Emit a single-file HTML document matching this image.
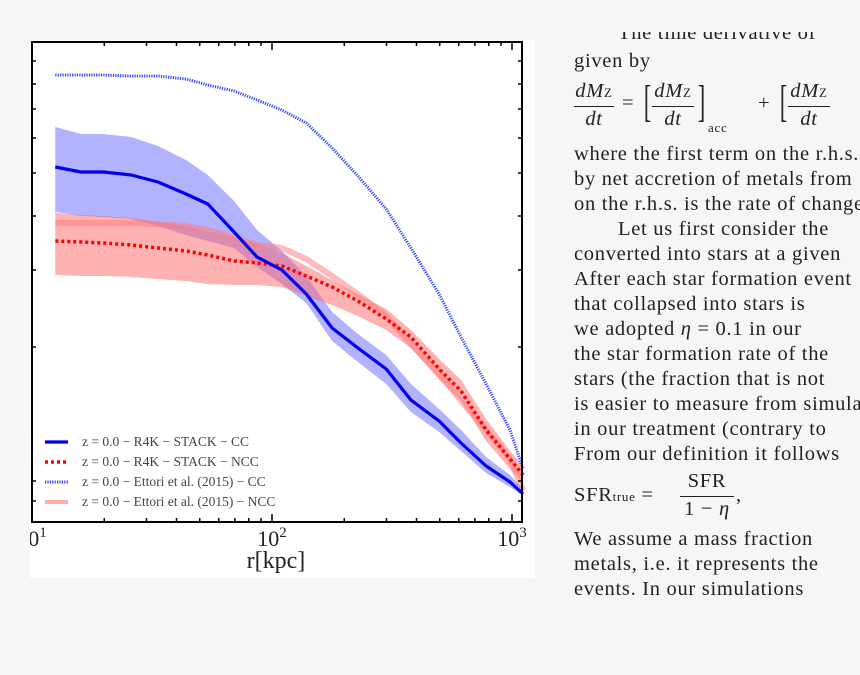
<!DOCTYPE html>
<html><head><meta charset="utf-8">
<style>
html,body{margin:0;padding:0;background:#f6f6f6;width:860px;height:675px;overflow:hidden;position:relative;font-family:"Liberation Serif",serif;}
#panel{position:absolute;left:30px;top:40px;width:505px;height:538px;background:#fff;overflow:hidden}
#txt{position:absolute;left:574px;top:0;width:286px;height:675px;overflow:hidden;color:#222;font-size:20.5px;letter-spacing:0.7px}
.l{position:absolute;left:0;white-space:nowrap}
.frac{position:absolute;text-align:center;font-style:italic}
</style></head><body>
<div id="panel">
<svg id="chart" width="505" height="538" viewBox="30 40 505 538"></svg>
</div>
<div id="txt">
<div class="l" style="top:22px;left:44px;clip-path:inset(10px 0 0 0)">The time derivative of</div>
<div class="l" style="top:50px">given by</div>
<div class="l" style="top:80px;width:300px;height:60px">
 <div class="frac" style="left:0;top:0;width:40px">dM<span style="font-size:13px;font-style:normal">Z</span></div>
 <div style="position:absolute;left:0;top:26px;width:40px;border-top:1px solid #222"></div>
 <div class="frac" style="left:0;top:28px;width:40px">dt</div>
 <div style="position:absolute;left:48px;top:12px">=</div>
 <div style="position:absolute;left:66px;top:-4px;font-size:44px;transform:scaleX(0.5)">[</div>
 <div class="frac" style="left:78px;top:0;width:42px">dM<span style="font-size:13px;font-style:normal">Z</span></div>
 <div style="position:absolute;left:78px;top:26px;width:42px;border-top:1px solid #222"></div>
 <div class="frac" style="left:78px;top:28px;width:42px">dt</div>
 <div style="position:absolute;left:120px;top:-4px;font-size:44px;transform:scaleX(0.5)">]</div>
 <div style="position:absolute;left:134px;top:40px;font-size:13px">acc</div>
 <div style="position:absolute;left:184px;top:12px">+</div>
 <div style="position:absolute;left:202px;top:-4px;font-size:44px;transform:scaleX(0.5)">[</div>
 <div class="frac" style="left:214px;top:0;width:42px">dM<span style="font-size:13px;font-style:normal">Z</span></div>
 <div style="position:absolute;left:214px;top:26px;width:42px;border-top:1px solid #222"></div>
 <div class="frac" style="left:214px;top:28px;width:42px">dt</div>
</div>
<div class="l" style="top:143px">where the first term on the r.h.s.</div>
<div class="l" style="top:168px">by net accretion of metals from</div>
<div class="l" style="top:193px">on the r.h.s. is the rate of change</div>
<div class="l" style="top:218px;left:44px">Let us first consider the</div>
<div class="l" style="top:243px">converted into stars at a given</div>
<div class="l" style="top:268px">After each star formation event</div>
<div class="l" style="top:293px">that collapsed into stars is</div>
<div class="l" style="top:318px">we adopted <i>η</i> = 0.1 in our</div>
<div class="l" style="top:343px">the star formation rate of the</div>
<div class="l" style="top:368px">stars (the fraction that is not</div>
<div class="l" style="top:393px">is easier to measure from simulations</div>
<div class="l" style="top:418px">in our treatment (contrary to</div>
<div class="l" style="top:443px">From our definition it follows</div>
<div class="l" style="top:470px;height:50px;width:200px">
 <div style="position:absolute;left:0;top:14px">SFR<span style="font-size:13px">true</span> =</div>
 <div style="position:absolute;left:106px;top:0;width:54px;text-align:center">SFR</div>
 <div style="position:absolute;left:106px;top:26px;width:54px;border-top:1px solid #222"></div>
 <div style="position:absolute;left:106px;top:28px;width:54px;text-align:center">1 − <i>η</i></div>
 <div style="position:absolute;left:162px;top:14px">,</div>
</div>
<div class="l" style="top:528px">We assume a mass fraction</div>
<div class="l" style="top:553px">metals, i.e. it represents the</div>
<div class="l" style="top:578px">events. In our simulations</div>
</div>
<script>
const radii = [12.5,16,19.8,25.9,33.5,43.8,54,69.5,86.6,110,139,178,228,299,379,497,613,780,981,1112];
const stackCC = [355,350,350,347,340,328,318,290,265,252,228,194,174,153,122,101,79,56,40,28];
const stackCCHigh = [395,388,388,385,376,362,347,321,292,271,246,210,188,167,138,113,92,65,47,33];
const stackCCLow = [310,306,305,303,296,287,281,274,255,238,219,181,160,138,110,90,71,49,35,26];
const stackNCC = [281,280,279,277,274,271,267,261,259,256,246,235,221,203,185,153,131,92,63,47];
const stackNCCHigh = [309,307,306,304,300,296,290,285,278,269,256,242,228,213,192,163,142,103,71,56];
const stackNCCLow = [247,246,246,245,243,241,238,237,237,235,226,217,206,192,174,142,121,81,53,38];
const ettoriCC = [447,447,447,446,446,443,437,431,422,412,399,374,346,313,274,228,185,138,92,53];
const ettoriNCC = [299,299,299,299,298,296,292,285,277,274,263,246,228,206,178,149,121,92,63,31];
const xTickLabels = ["1","2","3"];
const legendLabels = ["z = 0.0 − R4K − STACK − CC","z = 0.0 − R4K − STACK − NCC","z = 0.0 − Ettori et al. (2015) − CC","z = 0.0 − Ettori et al. (2015) − NCC"];

const L=32,R=522,T=42,B=522;
const xs = r => L + (Math.log10(r)-1)*240;
const ys = v => B - v;
const NS="http://www.w3.org/2000/svg";
const svg=document.getElementById('chart');
function mk(tag,attrs){const e=document.createElementNS(NS,tag);for(const k in attrs)e.setAttribute(k,attrs[k]);svg.appendChild(e);return e;}
function linePath(vals){return vals.map((v,i)=>(i?'L':'M')+xs(radii[i]).toFixed(1)+','+ys(v).toFixed(1)).join('');}
function bandPath(hi,lo){let d=linePath(hi);for(let i=lo.length-1;i>=0;i--)d+='L'+xs(radii[i]).toFixed(1)+','+ys(lo[i]).toFixed(1);return d+'Z';}

let e;
e=mk('path',{d:bandPath(stackCCHigh,stackCCLow),fill:'#6666ff',opacity:0.5});


e=mk('path',{d:bandPath(stackNCCHigh,stackNCCLow),fill:'#ff6666',opacity:0.5});


e=mk('path',{d:linePath(ettoriNCC),fill:'none',stroke:'#ff7777',"stroke-width":6,opacity:0.5});


e=mk('path',{d:linePath(ettoriCC),fill:'none',stroke:'#3344ff',"stroke-width":3,"stroke-dasharray":"1.2,1.2"});


e=mk('path',{d:linePath(stackNCC),fill:'none',stroke:'#ff0000',"stroke-width":3.5,"stroke-dasharray":"3,3"});


e=mk('path',{d:linePath(stackCC),fill:'none',stroke:'#0000ee',"stroke-width":3.2,"stroke-linejoin":"round"});



e=mk('rect',{x:L,y:T,width:R-L,height:B-T,fill:'none',stroke:'#000',"stroke-width":2});


for(let d=1;d<=3;d++){for(let m=1;m<10;m++){const r=m*Math.pow(10,d);const x=xs(r);if(x<L-0.5||x>R+0.5)continue;const len=m===1?8:4;
 e=mk('line',{x1:x,x2:x,y1:B,y2:B-len,stroke:'#000',"stroke-width":1.5});
 
 
 e=mk('line',{x1:x,x2:x,y1:T,y2:T+len,stroke:'#000',"stroke-width":1.5});
 
 }}
xTickLabels.forEach((p,i)=>{const x=xs(Math.pow(10,i+1));
 const t=mk('text',{x:x,y:546,"text-anchor":"middle","font-size":22,"font-family":"Liberation Serif, serif",fill:'#222'});
 t.innerHTML='10<tspan dy="-9" font-size="15">'+p+'</tspan>';
 
 });
e=mk('text',{x:276,y:568,"text-anchor":"middle","font-size":24,"font-family":"Liberation Serif, serif",fill:'#222'});
e.textContent='r[kpc]';


[61,84,109,138,173,216,270,347,481,501].forEach(y=>{
 e=mk('line',{x1:L,x2:L+4,y1:y,y2:y,stroke:'#000',"stroke-width":1.5});
 
 
 e=mk('line',{x1:R,x2:R-4,y1:y,y2:y,stroke:'#000',"stroke-width":1.5});
 
 });
const lstyles=[{stroke:'#0000ee',"stroke-width":3.2},{stroke:'#ff0000',"stroke-width":3.5,"stroke-dasharray":"3,3"},{stroke:'#3344ff',"stroke-width":3,"stroke-dasharray":"1.2,1.2"},{stroke:'#ff7777',"stroke-width":4,opacity:0.6}];
legendLabels.forEach((lab,i)=>{const y=442+i*20;
 const a=Object.assign({x1:45,x2:68,y1:y,y2:y},lstyles[i]);
 e=mk('line',a);
 
 
 e=mk('text',{x:82,y:y+4,"font-size":13.5,"font-family":"Liberation Serif, serif",fill:'#444'});
 e.textContent=lab;
 
 });
</script>
</body></html>
